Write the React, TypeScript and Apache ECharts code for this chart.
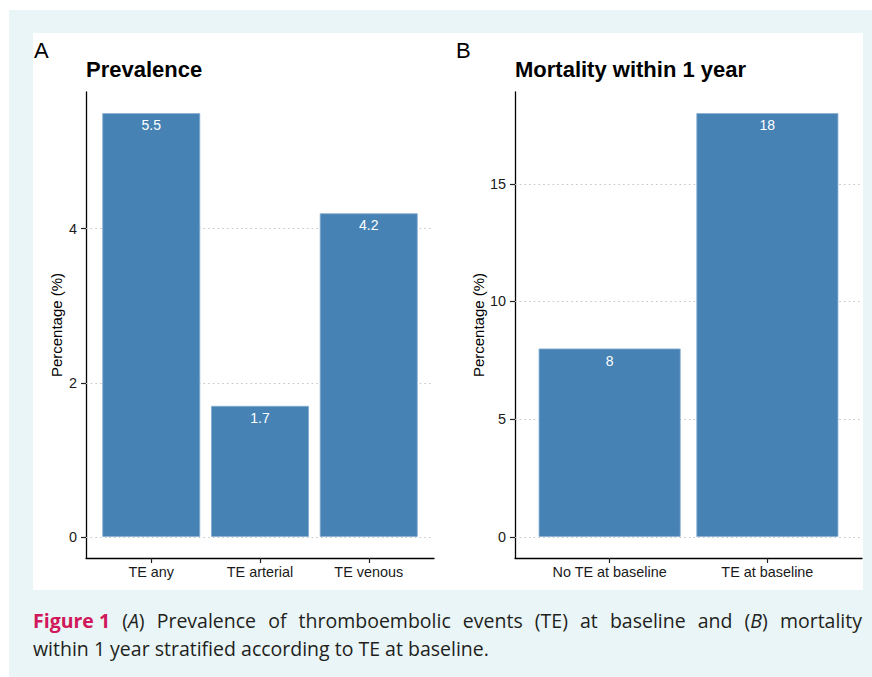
import React, { useEffect, useRef } from "react";
import * as echarts from "echarts";

// ---- data ----
const prevCategories = ["TE any", "TE arterial", "TE venous"];
const prevValues = [5.5, 1.7, 4.2];
const prevTicks = [0, 2, 4];

const mortCategories = ["No TE at baseline", "TE at baseline"];
const mortValues = [8, 18];
const mortTicks = [0, 5, 10, 15];

const panelLetters = ["A", "B"];
const panelTitles = ["Prevalence", "Mortality within 1 year"];
const yAxisTitle = "Percentage (%)";

const captionLine1 = "Figure 1|(A) Prevalence of thromboembolic events (TE) at baseline and (B) mortality";
const captionLine2 = "within 1 year stratified according to TE at baseline.";

// ---- styles ----
const BAR = "#4682b4";
const FONT = "Liberation Sans";
const CAP_FONT = "Open Sans";
const CAP_SIZE = 19.5;
const CRIMSON = "#d0185a";
const CAP_COLOR = "#231f20";

function buildCaption(): any[] {
  const canvas = document.createElement("canvas");
  const ctx = canvas.getContext("2d")!;
  const fonts: Record<string, string> = {
    f: `bold ${CAP_SIZE}px "${CAP_FONT}"`,
    n: `${CAP_SIZE}px "${CAP_FONT}"`,
    i: `italic ${CAP_SIZE}px "${CAP_FONT}"`,
  };
  const rich = {
    f: { fontFamily: CAP_FONT, fontSize: CAP_SIZE, fontWeight: "bold", fill: CRIMSON },
    n: { fontFamily: CAP_FONT, fontSize: CAP_SIZE, fill: CAP_COLOR },
    i: { fontFamily: CAP_FONT, fontSize: CAP_SIZE, fontStyle: "italic", fill: CAP_COLOR },
  };
  const [figPart, restPart] = captionLine1.split("|");
  type Part = { t: string; s: string };
  const words: Part[][] = [];
  words.push([{ t: figPart, s: "f" }]);
  restPart.split(" ").forEach((w) => {
    const m = w.match(/^\(([A-Z])\)$/);
    if (m) words.push([{ t: "(", s: "n" }, { t: m[1], s: "i" }, { t: ")", s: "n" }]);
    else words.push([{ t: w, s: "n" }]);
  });
  const widths = words.map((parts) =>
    parts.reduce((acc, p) => {
      ctx.font = fonts[p.s];
      return acc + ctx.measureText(p.t).width;
    }, 0)
  );
  const left = 33;
  const right = 862;
  const total = widths.reduce((a, b) => a + b, 0);
  const gap = (right - left - total) / (words.length - 1);
  const els: any[] = [];
  let x = left;
  words.forEach((parts, k) => {
    els.push({
      type: "text",
      x,
      y: 620,
      style: {
        text: parts.map((p) => `{${p.s}|${p.t}}`).join(""),
        rich,
        verticalAlign: "middle",
      },
    });
    x += widths[k] + gap;
  });
  els.push({
    type: "text",
    x: left,
    y: 648,
    style: {
      text: captionLine2,
      fontFamily: CAP_FONT,
      fontSize: CAP_SIZE,
      fill: CAP_COLOR,
      verticalAlign: "middle",
    },
  });
  return els;
}

function buildOption() {
  const panels = [
    { cats: prevCategories, vals: prevValues, ticks: prevTicks, left: 86, width: 348, letterX: 34 },
    { cats: mortCategories, vals: mortValues, ticks: mortTicks, left: 515, width: 347, letterX: 456 },
  ];
  const grid: any[] = [];
  const xAxis: any[] = [];
  const yAxis: any[] = [];
  const series: any[] = [];
  const graphic: any[] = [
    { type: "rect", z: -20, shape: { x: 9, y: 10, width: 863, height: 667 }, style: { fill: "#e9f5f7" } },
    { type: "rect", z: -19, shape: { x: 33, y: 33, width: 830, height: 557 }, style: { fill: "#ffffff" } },
  ];

  panels.forEach((p, i) => {
    const yMax = Math.max(...p.vals);
    const lo = -0.05 * yMax;
    const hi = yMax * 1.05;
    const n = p.cats.length;
    const catIdx = p.cats.map((_, k) => k + 1);
    grid.push({ left: p.left, top: 92, width: p.width, height: 466, containLabel: false });
    xAxis.push({
      gridIndex: i,
      type: "value",
      min: 0.4,
      max: n + 0.6,
      axisLine: { show: true, onZero: false, lineStyle: { color: "#000", width: 1.3 } },
      axisTick: { show: true, length: 5, customValues: catIdx, lineStyle: { color: "#222", width: 1.2 } },
      axisLabel: {
        customValues: catIdx,
        formatter: (v: number) => p.cats[Math.round(v) - 1] ?? "",
        color: "#1a1a1a",
        fontSize: 14.4,
        fontFamily: FONT,
        margin: 7,
      },
      splitLine: { show: false },
    });
    yAxis.push({
      gridIndex: i,
      type: "value",
      min: lo,
      max: hi,
      axisLine: { show: true, onZero: false, lineStyle: { color: "#000", width: 1.3 } },
      axisTick: { show: true, length: 5, customValues: p.ticks, lineStyle: { color: "#222", width: 1.2 } },
      axisLabel: {
        customValues: p.ticks,
        color: "#1a1a1a",
        fontSize: 14.4,
        fontFamily: FONT,
        margin: 9,
      },
      splitLine: { show: false },
      name: yAxisTitle,
      nameLocation: "middle",
      nameGap: 22,
      nameTextStyle: { fontSize: 15, color: "#000", fontFamily: FONT },
    });
    series.push({
      type: "line",
      xAxisIndex: i,
      yAxisIndex: i,
      data: [],
      z: 1,
      silent: true,
      markLine: {
        silent: true,
        z: 1,
        symbol: ["none", "none"],
        label: { show: false },
        lineStyle: { type: [1.5, 3.2], color: "#c4c4c4", width: 1.1 },
        data: p.ticks.map((t) => ({ yAxis: t })),
      },
    });
    series.push({
      type: "bar",
      xAxisIndex: i,
      yAxisIndex: i,
      z: 3,
      barWidth: "90%",
      data: p.cats.map((_, k) => [k + 1, p.vals[k]]),
      itemStyle: { color: BAR, borderColor: "#86acd0", borderWidth: 0.8 },
      label: {
        show: true,
        position: "insideTop",
        distance: 5,
        color: "#ffffff",
        fontSize: 14,
        fontFamily: FONT,
        formatter: (d: any) => String(d.value[1]),
      },
    });
    graphic.push({
      type: "text",
      x: p.letterX,
      y: 39,
      style: { text: panelLetters[i], fontFamily: FONT, fontSize: 22, fill: "#000" },
    });
    graphic.push({
      type: "text",
      x: p.left,
      y: 58,
      style: { text: panelTitles[i], fontFamily: FONT, fontSize: 22, fontWeight: "bold", fill: "#000" },
    });
  });

  graphic.push(...buildCaption());

  return {
    animation: false,
    backgroundColor: "#ffffff",
    grid,
    xAxis,
    yAxis,
    series,
    graphic,
  };
}

export default function App() {
  const ref = useRef<HTMLDivElement>(null);
  useEffect(() => {
    const chart = echarts.init(ref.current!, null, { renderer: "svg" });
    chart.setOption(buildOption() as any);
    return () => chart.dispose();
  }, []);
  return (
    <div
      ref={ref}
      style={{ position: "absolute", left: 0, top: 0, width: 872, height: 677 }}
    />
  );
}
